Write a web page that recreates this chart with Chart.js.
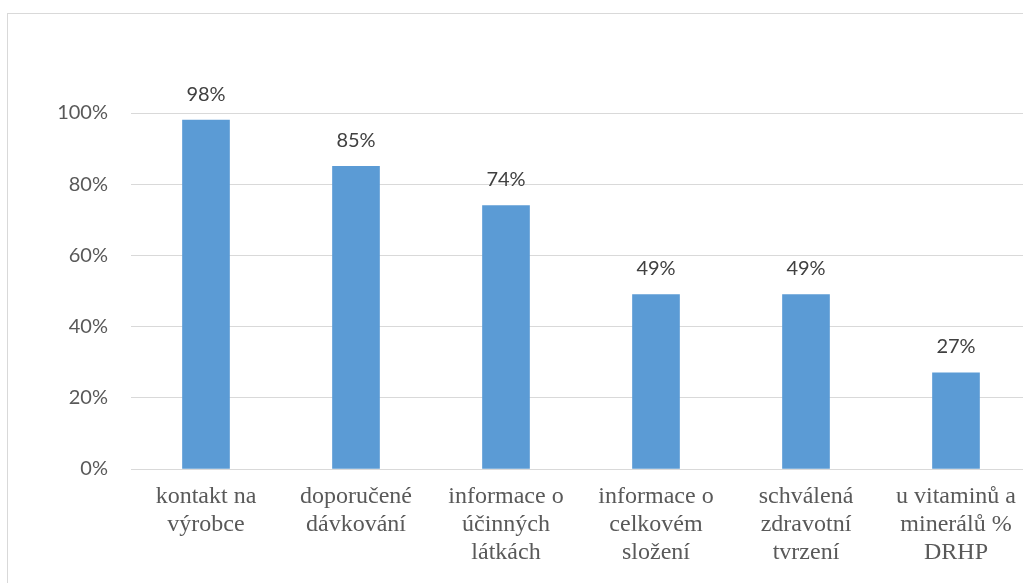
<!DOCTYPE html>
<html>
<head>
<meta charset="utf-8">
<script src="https://cdn.jsdelivr.net/npm/chart.js@4/dist/chart.umd.min.js"></script>
<style>
  html, body { margin: 0; padding: 0; background: #fff; overflow: hidden; }
  #frame {
    position: absolute; left: 7px; top: 13px;
    width: 1100px; height: 700px;
    border: 1px solid #d9d9d9;
  }
  #c { display: block; }
</style>
</head>
<body>
<div id="frame">
  <canvas id="c" width="1030" height="580"></canvas>
</div>
<script>
// kategorie (víceřádkové popisky osy X)
const categories = [
    ['kontakt na', 'výrobce'],
    ['doporučené', 'dávkování'],
    ['informace o', 'účinných', 'látkách'],
    ['informace o', 'celkovém', 'složení'],
    ['schválená', 'zdravotní', 'tvrzení'],
    ['u vitaminů a', 'minerálů %', 'DRHP']
];
const percentValues = [98, 85, 74, 49, 49, 27];
const yTicks = [0, 20, 40, 60, 80, 100];

const SERIF = "'Liberation Serif', 'Times New Roman', serif";

// popisky hodnot nad sloupci
const valueLabels = {
    id: 'valueLabels',
    afterDatasetsDraw(chart) {
        const ctx = chart.ctx;
        const meta = chart.getDatasetMeta(0);
        ctx.save();
        ctx.font = '20px Lato';
        ctx.fillStyle = '#404040';
        ctx.textAlign = 'center';
        ctx.textBaseline = 'bottom';
        meta.data.forEach((bar, i) => {
            ctx.fillText(percentValues[i] + '%', bar.x, bar.y - 16);
        });
        ctx.restore();
    }
};

new Chart(document.getElementById('c'), {
    type: 'bar',
    data: {
        labels: categories,
        datasets: [{
            data: percentValues,
            backgroundColor: '#5b9bd5',
            barThickness: 47
        }]
    },
    options: {
        responsive: false,
        animation: false,
        layout: { padding: { top: 99, left: 0, right: 7, bottom: 0 } },
        plugins: {
            legend: { display: false },
            tooltip: { enabled: false }
        },
        scales: {
            x: {
                grid: { display: false, drawTicks: false },
                border: { color: '#d9d9d9', width: 1 },
                ticks: {
                    color: '#595959',
                    font: { family: SERIF, size: 24, lineHeight: 28 / 24 },
                    padding: 14,
                    maxRotation: 0,
                    autoSkip: false
                },
                afterFit: s => { s.height = 125; }
            },
            y: {
                min: 0,
                max: 100,
                afterBuildTicks: s => { s.ticks = yTicks.map(v => ({ value: v })); },
                grid: { color: '#d9d9d9', drawTicks: false },
                border: { display: false },
                ticks: {
                    color: '#595959',
                    font: { family: 'Lato', size: 20 },
                    padding: 23,
                    callback: v => v + '%'
                },
                afterFit: s => { s.width = 123; }
            }
        }
    },
    plugins: [valueLabels]
});
</script>
</body>
</html>
